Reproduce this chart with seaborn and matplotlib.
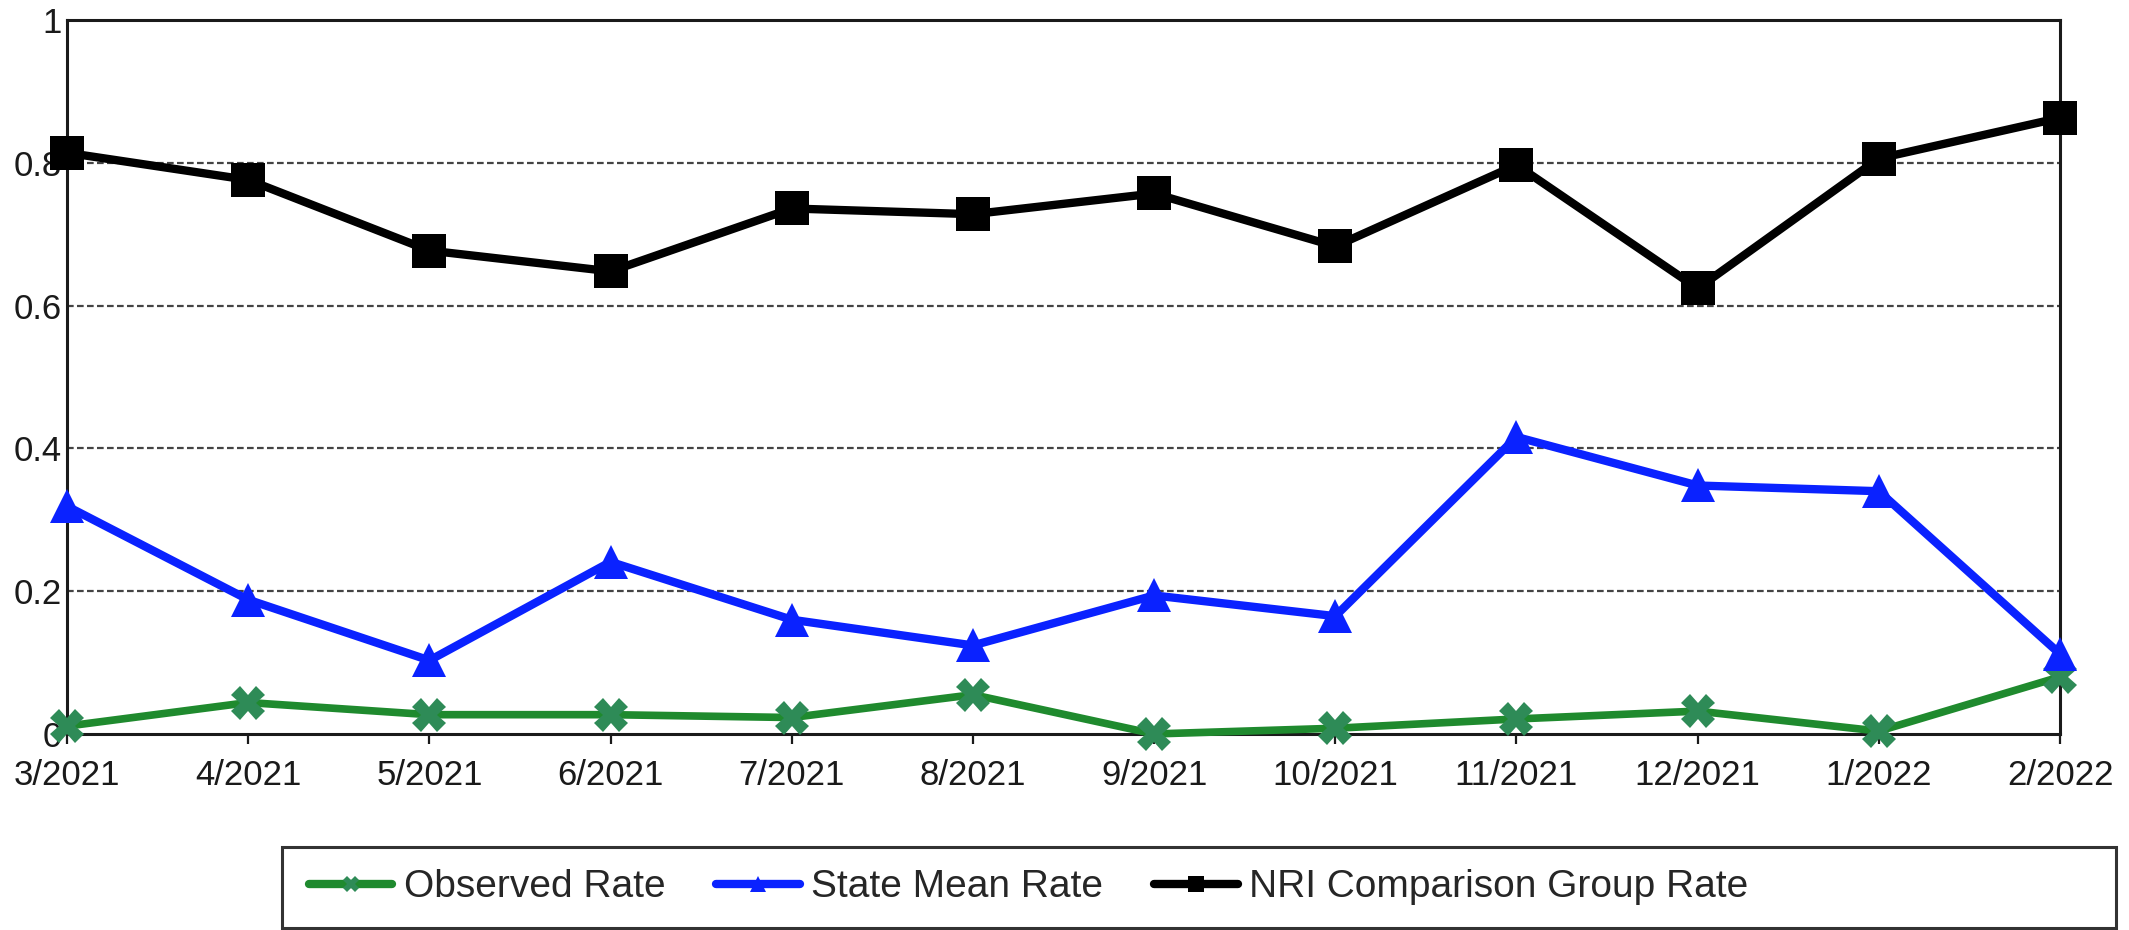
import matplotlib
matplotlib.use("Agg")
import matplotlib.pyplot as plt
from matplotlib.lines import Line2D
from matplotlib.patches import Rectangle
import seaborn as sns
import pandas as pd

months = ["3/2021", "4/2021", "5/2021", "6/2021", "7/2021", "8/2021",
          "9/2021", "10/2021", "11/2021", "12/2021", "1/2022", "2/2022"]
observed = [0.011, 0.044, 0.027, 0.027, 0.023, 0.055, 0.0, 0.008, 0.021, 0.032, 0.004, 0.080]
state_mean = [0.319, 0.188, 0.103, 0.241, 0.160, 0.124, 0.194, 0.165, 0.416, 0.348, 0.340, 0.112]
nri = [0.814, 0.776, 0.677, 0.648, 0.736, 0.728, 0.757, 0.683, 0.797, 0.624, 0.806, 0.863]
series_names = ["Observed Rate", "State Mean Rate", "NRI Comparison Group Rate"]
y_ticks = [0, 0.2, 0.4, 0.6, 0.8, 1]
y_tick_labels = ["0", "0.2", "0.4", "0.6", "0.8", "1"]

sns.set_style("white")
plt.rcParams["font.family"] = ["Liberation Sans", "DejaVu Sans"]

fig = plt.figure(figsize=(21.29, 9.30), dpi=100)
ax = fig.add_axes([0.0315, 0.2108, 0.9361, 0.7677])

df = pd.DataFrame({"month": months * 3,
                   "pos": list(range(len(months))) * 3,
                   "value": observed + state_mean + nri,
                   "series": [series_names[0]] * 12 + [series_names[1]] * 12 + [series_names[2]] * 12})

styles = {
    series_names[0]: dict(color="#1f8a2e", marker="X", ms=24, mfc="#2e8b57", mec="#2e8b57", lw=5.5),
    series_names[1]: dict(color="#0a22ff", marker="^", ms=24, mfc="#0a22ff", mec="#0a22ff", lw=6),
    series_names[2]: dict(color="#000000", marker="s", ms=24, mfc="#000000", mec="#000000", lw=6),
}

for name in series_names:
    st = styles[name]
    sub = df[df["series"] == name]
    sns.lineplot(data=sub, x="pos", y="value", ax=ax, sort=False, color=st["color"],
                 linewidth=st["lw"], marker=st["marker"], markersize=st["ms"],
                 markerfacecolor=st["mfc"], markeredgecolor=st["mec"], markeredgewidth=0,
                 clip_on=False, legend=False, zorder=3)

ax.set_xlim(0, len(months) - 1)
ax.set_ylim(0, 1)
ax.set_xticks(range(len(months)))
ax.set_xticklabels(months)
ax.set_yticks(y_ticks)
ax.set_yticklabels(y_tick_labels)
ax.set_xlabel("")
ax.set_ylabel("")

for yv in [0.2, 0.4, 0.6, 0.8]:
    ax.axhline(yv, color="#444444", linewidth=1.6, linestyle=(0, (3, 1.5)), zorder=1)

for s in ax.spines.values():
    s.set_visible(True)
    s.set_color("#1a1a1a")
    s.set_linewidth(2.2)

ax.tick_params(axis="x", length=7, width=1.6, pad=11, labelsize=25, colors="#1a1a1a", direction="out", bottom=True)
ax.tick_params(axis="y", length=0, pad=4, labelsize=25, colors="#1a1a1a", left=True)

# legend box
fig.patches.append(Rectangle((0.1325, 0.002), 0.8615, 0.0875, transform=fig.transFigure,
                             facecolor="white", edgecolor="#333333", linewidth=2.2, zorder=0))

handles = []
for name in series_names:
    st = styles[name]
    handles.append(Line2D([], [], color=st["color"], lw=6, marker=st["marker"], markersize=11,
                          markerfacecolor=st["mfc"], markeredgecolor=st["mec"], markeredgewidth=0))
fig.legend(handles, series_names, loc="center left", bbox_to_anchor=(0.145, 0.046),
           ncol=3, frameon=False, fontsize=28, handlelength=2.15, handletextpad=0.3,
           columnspacing=1.3, borderpad=0, borderaxespad=0)

fig.savefig("out.png", dpi=100)
